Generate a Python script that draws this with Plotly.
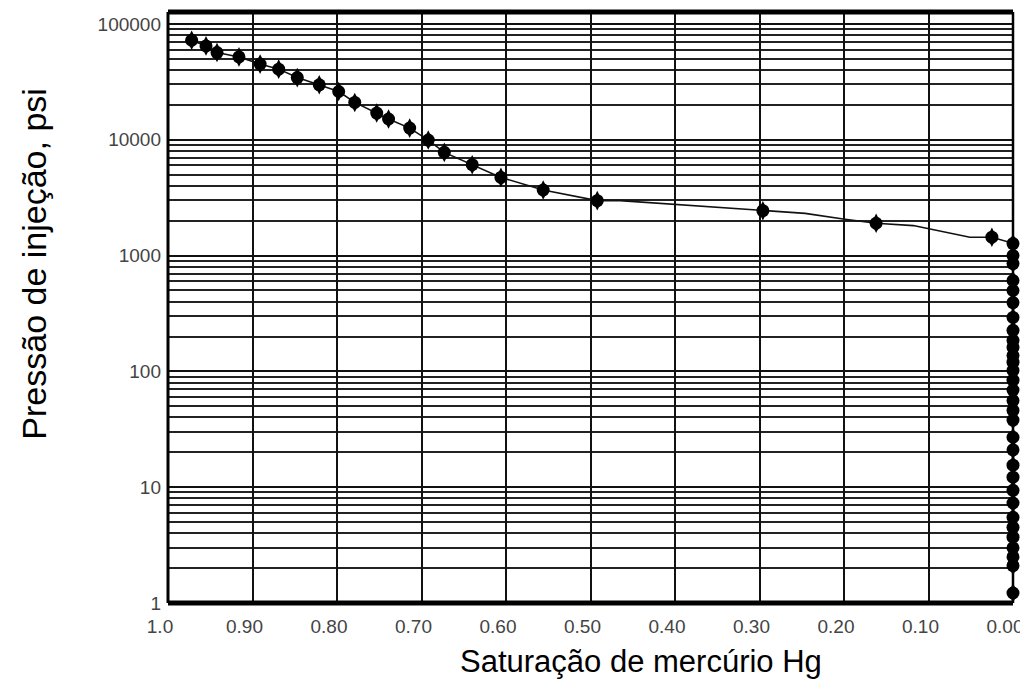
import plotly.graph_objects as go

# ---- data ----
# main capillary-pressure curve markers (saturation, pressure psi)
sat_markers = [0.972, 0.955, 0.942, 0.916, 0.891, 0.869, 0.847, 0.821, 0.798, 0.779,
               0.753, 0.739, 0.714, 0.692, 0.673, 0.640, 0.606, 0.556, 0.492, 0.296,
               0.162, 0.025]
p_markers = [72300, 64600, 56600, 51900, 45000, 40700, 34400, 29800, 26100, 21000,
             17000, 15100, 12600, 9940, 7780, 6090, 4730, 3680, 2980, 2440,
             1900, 1440]

# markers stacked at zero saturation
p_zero = [1270, 1000, 853, 609, 499, 393, 292, 226, 185, 161, 137, 120, 102, 84,
          69, 56, 46, 38, 27, 21, 15.5, 12.2, 9.4, 7.3, 5.5, 4.5, 3.7, 3.0, 2.5,
          2.1, 1.22]
sat_zero = [0.0] * len(p_zero)

# connecting line vertices
line_sat = [0.972, 0.955, 0.942, 0.916, 0.891, 0.869, 0.847, 0.821, 0.798, 0.779,
            0.753, 0.739, 0.714, 0.692, 0.673, 0.640, 0.606, 0.556, 0.492, 0.465,
            0.418, 0.355, 0.296, 0.246, 0.201, 0.162, 0.118, 0.051, 0.025, 0.0, 0.0]
line_p = [72300, 64600, 56600, 51900, 45000, 40700, 34400, 29800, 26100, 21000,
          17000, 15100, 12600, 9940, 7780, 6090, 4730, 3680, 2980, 2980,
          2825, 2610, 2440, 2315, 2070, 1900, 1815, 1438, 1440, 1277, 1.22]

x_tickvals = [1.0, 0.9, 0.8, 0.7, 0.6, 0.5, 0.4, 0.3, 0.2, 0.1, 0.0]
x_ticktext = ["1.0", "0.90", "0.80", "0.70", "0.60", "0.50", "0.40", "0.30",
              "0.20", "0.10", "0.00"]
y_tickvals = [1, 10, 100, 1000, 10000, 100000]
y_ticktext = ["1", "10", "100", "1000", "10000", "100000"]
y_minor = [k * 10 ** d for d in range(0, 6) for k in range(2, 10)]

all_sat = sat_markers + sat_zero
all_p = p_markers + p_zero

FONT = "Liberation Sans, Arial, sans-serif"

fig = go.Figure()
fig.add_trace(go.Scatter(x=line_sat, y=line_p, mode="lines",
                         line=dict(color="#111111", width=1.6),
                         hoverinfo="skip", showlegend=False, cliponaxis=False))
fig.add_trace(go.Scatter(x=all_sat, y=all_p, mode="markers",
                         marker=dict(symbol="diamond-tall", size=14, color="black",
                                     line=dict(width=0)),
                         showlegend=False, cliponaxis=False))
fig.add_trace(go.Scatter(x=all_sat, y=all_p, mode="markers",
                         marker=dict(symbol="circle", size=13, color="black",
                                     line=dict(width=0)),
                         showlegend=False, cliponaxis=False))

fig.update_layout(
    width=1020, height=684, autosize=False,
    margin=dict(l=168, r=7, t=12, b=81, autoexpand=False),
    paper_bgcolor="white", plot_bgcolor="white",
    font=dict(family=FONT, color="#333333"),
    xaxis=dict(range=[1.0, 0.0], tickvals=x_tickvals, ticktext=x_ticktext,
               showgrid=True, gridcolor="#111111", gridwidth=1.6,
               zeroline=False, showline=False, ticks="",
               tickfont=dict(size=19, color="#444444"),
               ticklabelshift=8, ticklabelstandoff=10, ticklabeloverflow="allow"),
    yaxis=dict(type="log", range=[0, 5.103], tickvals=y_tickvals, ticktext=y_ticktext,
               showgrid=True, gridcolor="#111111", gridwidth=1.6,
               minor=dict(tickvals=y_minor, showgrid=True, gridcolor="#222222",
                          gridwidth=1.5, ticks=""),
               zeroline=False, showline=False, ticks="",
               tickfont=dict(size=19, color="#444444"), ticklabelstandoff=6,
               ticklabeloverflow="allow"),
    shapes=[
        dict(type="line", xref="paper", yref="paper", x0=0, x1=1, y0=1, y1=1,
             line=dict(color="black", width=5)),
        dict(type="line", xref="paper", yref="paper", x0=0, x1=1, y0=0, y1=0,
             line=dict(color="black", width=5)),
        dict(type="line", xref="paper", yref="paper", x0=0, x1=0, y0=0, y1=1,
             line=dict(color="black", width=3)),
        dict(type="line", xref="paper", yref="paper", x0=1, x1=1, y0=0, y1=1,
             line=dict(color="black", width=2.5)),
    ],
    annotations=[
        dict(text="Saturação de mercúrio Hg", xref="paper", yref="paper",
             x=0.56, y=-0.066, xanchor="center", yanchor="top", showarrow=False,
             font=dict(size=31, color="black", family=FONT)),
        dict(text="Pressão de injeção, psi", xref="paper", yref="paper",
             x=-0.158, y=0.575, xanchor="center", yanchor="middle", showarrow=False,
             textangle=-90, font=dict(size=34, color="black", family=FONT)),
    ],
)

fig.write_html("out.html", config={"displayModeBar": False},
               post_script="document.body.style.margin='0';document.body.style.overflow='hidden';")
